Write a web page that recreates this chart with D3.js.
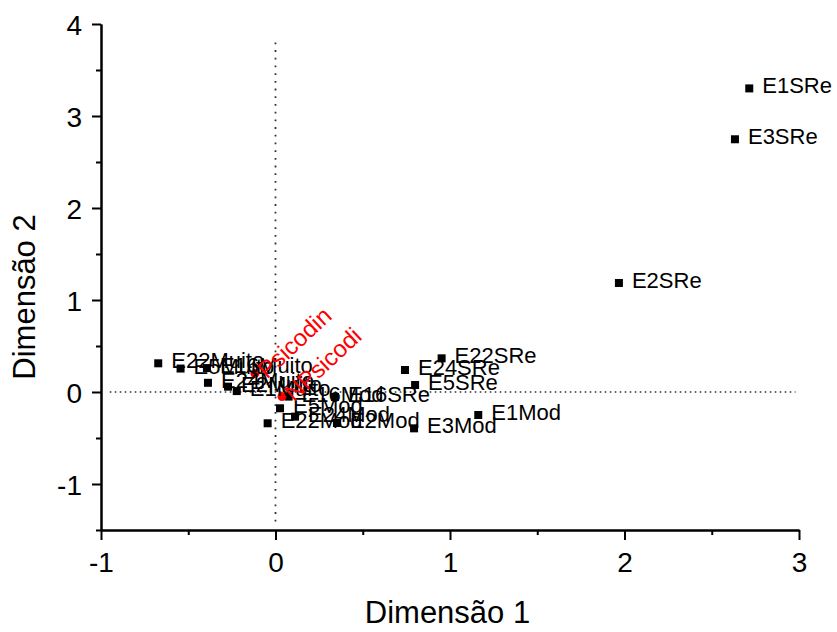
<!DOCTYPE html>
<html>
<head>
<meta charset="utf-8">
<script src="https://cdn.jsdelivr.net/npm/d3@7"></script>
<style>
  html, body { margin: 0; padding: 0; background: #fff; }
  svg { display: block; font-family: Arial, "Liberation Sans", Helvetica, sans-serif; }
</style>
</head>
<body>
<svg id="chart" width="837" height="632"></svg>
<script>
// Correspondence map: item/level categories (black) and group profiles (red)
const categoryNames = [
  "E1SRe", "E3SRe", "E2SRe", "E22SRe", "E24SRe", "E5SRe", "E1Mod", "E3Mod",
  "E16SRe", "E2Mod", "E22Mod", "E24Mod", "E5Mod", "E16Mod",
  "E22Muito", "E5Muito", "E16Muito", "E24Muito", "E2Muito", "E1Muito"
];
const categoryDim1 = [
  2.715, 2.633, 1.968, 0.952, 0.742, 0.800, 1.162, 0.794,
  0.341, 0.352, -0.045, 0.112, 0.026, 0.075,
  -0.672, -0.544, -0.393, -0.387, -0.272, -0.222
];
const categoryDim2 = [
  3.30, 2.747, 1.185, 0.366, 0.239, 0.076, -0.250, -0.395,
  -0.054, -0.337, -0.340, -0.268, -0.177, -0.050,
  0.312, 0.255, 0.260, 0.100, 0.058, 0.010
];

const groupNames = ["Psicodin", "NPsicodi"];
const groupDim1 = [-0.118, 0.037];
const groupDim2 = [0.200, -0.050];

const xTicks = [-1, 0, 1, 2, 3];
const xMinorTicks = [-0.5, 0.5, 1.5, 2.5];
const yTicks = [-1, 0, 1, 2, 3, 4];
const yMinorTicks = [-1.5, -0.5, 0.5, 1.5, 2.5, 3.5];

const xTitle = "Dimensão 1";
const yTitle = "Dimensão 2";

const svg = d3.select("#chart");

const x = d3.scaleLinear().domain([-1, 3]).range([101, 799]);
const y = d3.scaleLinear().domain([-1.5, 4]).range([530, 24]);

// Dotted reference lines through the origin
svg.append("line")
  .attr("x1", x(0)).attr("x2", x(0))
  .attr("y1", y(3.8)).attr("y2", y(-1.41))
  .attr("stroke", "#333").attr("stroke-width", 1.8)
  .attr("stroke-dasharray", "1.8,5.9");
svg.append("line")
  .attr("x1", x(-0.95)).attr("x2", x(2.98))
  .attr("y1", y(0)).attr("y2", y(0))
  .attr("stroke", "#333").attr("stroke-width", 1.6)
  .attr("stroke-dasharray", "1.6,3.4");

// Axes
const fmt = d => String(d);
const xAxis = svg.append("g").attr("transform", `translate(0,${y(-1.5)})`)
  .call(d3.axisBottom(x).tickValues(xTicks).tickFormat(fmt)
    .tickSize(10).tickSizeOuter(0).tickPadding(12));
const xMinor = svg.append("g").attr("transform", `translate(0,${y(-1.5)})`)
  .call(d3.axisBottom(x).tickValues(xMinorTicks).tickFormat("")
    .tickSize(5).tickSizeOuter(0));
const yAxis = svg.append("g").attr("transform", `translate(${x(-1)},0)`)
  .call(d3.axisLeft(y).tickValues(yTicks).tickFormat(fmt)
    .tickSize(9).tickSizeOuter(0).tickPadding(10));
const yMinor = svg.append("g").attr("transform", `translate(${x(-1)},0)`)
  .call(d3.axisLeft(y).tickValues(yMinorTicks).tickFormat("")
    .tickSize(5).tickSizeOuter(0));

[xAxis, xMinor, yAxis, yMinor].forEach(g => {
  g.selectAll("path.domain").attr("stroke", "#000").attr("stroke-width", 2);
  g.selectAll(".tick line").attr("stroke", "#000").attr("stroke-width", 2);
  g.selectAll(".tick text")
    .attr("fill", "#000")
    .attr("font-family", "Arial, 'Liberation Sans', sans-serif")
    .attr("font-size", 28);
});
yAxis.selectAll(".tick text").attr("dy", "0.36em");

// Axis titles
svg.append("text")
  .attr("x", 447.5).attr("y", 623)
  .attr("text-anchor", "middle")
  .attr("font-size", 31)
  .attr("fill", "#000")
  .text(xTitle);
svg.append("text")
  .attr("transform", "translate(35,297) rotate(-90)")
  .attr("text-anchor", "middle")
  .attr("font-size", 31)
  .attr("fill", "#000")
  .text(yTitle);

// Category points
const categories = categoryNames.map((n, i) => ({ name: n, d1: categoryDim1[i], d2: categoryDim2[i] }));
const groups = groupNames.map((n, i) => ({ name: n, d1: groupDim1[i], d2: groupDim2[i] }));

svg.append("g").selectAll("rect")
  .data(categories).join("rect")
  .attr("x", d => x(d.d1) - 4)
  .attr("y", d => y(d.d2) - 4)
  .attr("width", 8).attr("height", 8)
  .attr("fill", "#000");

svg.append("g").selectAll("circle")
  .data(groups).join("circle")
  .attr("cx", d => x(d.d1))
  .attr("cy", d => y(d.d2))
  .attr("r", 4.5)
  .attr("fill", "#ff0000");

svg.append("g").selectAll("text")
  .data(categories).join("text")
  .attr("x", d => x(d.d1) + 13)
  .attr("y", d => y(d.d2) + 5)
  .attr("font-size", 22)
  .attr("fill", "#000")
  .text(d => d.name);

svg.append("g").selectAll("text")
  .data(groups).join("text")
  .attr("transform", d => `translate(${x(d.d1) + 12},${y(d.d2) + 6}) rotate(-43)`)
  .attr("font-size", 24)
  .attr("fill", "#ff0000")
  .text(d => d.name);
</script>
</body>
</html>
